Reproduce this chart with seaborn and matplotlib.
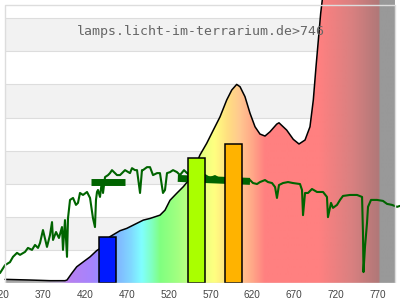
import numpy as np
import matplotlib
matplotlib.use("Agg")
import matplotlib.pyplot as plt
import seaborn as sns
from matplotlib.colors import to_rgb
from matplotlib.patches import Polygon

# ---------------- data (wavelength in nm, relative intensity) ----------------
lamp_nm = [324.7, 354.5, 378.4, 396.3, 398.7, 404.3, 410.3, 418.2, 426.2, 434.2,
           437.3, 450.0, 462.0, 470.0, 477.9, 489.8, 497.8, 509.7, 515.7, 521.7,
           529.7, 537.6, 543.5, 550.5, 557.5, 565.5, 573.4, 581.4, 589.4, 595.4,
           601.3, 605.3, 611.2, 617.2, 623.2, 629.1, 635.1, 641.1, 649.1, 651.8,
           661.0, 668.9, 675.7, 682.9, 688.8, 692.8, 696.0, 698.8, 701.6, 703.5,
           708.0, 720.0, 760.0, 790.3]
lamp_val = [0.11, 0.09, 0.07, 0.07, 0.09, 0.29, 0.49, 0.64, 0.79, 0.98,
            1.03, 1.40, 1.58, 1.65, 1.75, 1.90, 1.95, 2.05, 2.20, 2.50,
            2.71, 2.91, 3.09, 3.45, 3.87, 4.22, 4.62, 5.02, 5.53, 5.83,
            6.00, 5.93, 5.63, 5.13, 4.72, 4.50, 4.44, 4.57, 4.80, 4.84,
            4.62, 4.34, 4.20, 4.32, 4.72, 5.53, 6.53, 7.34, 8.15, 8.55,
            10.0, 12.0, 12.0, 12.0]

sun_nm = [318.7, 324.7, 330.6, 334.2, 339.0, 342.6, 348.6, 352.1, 356.9, 360.5,
          364.1, 366.5, 370.0, 374.8, 378.4, 380.8, 382.0, 385.6, 389.1, 392.7,
          393.9, 396.3, 398.7, 399.9, 402.3, 405.9, 409.4, 411.8, 414.2, 417.8,
          422.6, 426.2, 429.7, 432.1, 433.3, 434.5, 435.7, 438.1, 440.5, 441.7,
          444.1, 447.7, 450.0, 452.4, 458.4, 462.0, 465.6, 468.0, 473.9, 476.3,
          479.9, 482.3, 485.9, 488.2, 489.4, 494.2, 497.8, 501.4, 506.2, 509.7,
          513.3, 515.7, 518.1, 521.7, 525.3, 530.0, 533.6, 538.4, 542.0, 545.6,
          551.5, 557.5, 563.5, 569.4, 575.4, 581.4, 587.4, 593.3, 599.3, 605.3,
          611.2, 617.2, 620.8, 625.6, 629.1, 635.1, 638.7, 643.5, 647.1, 649.4,
          651.8, 656.6, 662.6, 668.5, 676.9, 679.3, 680.5, 682.9, 686.5, 691.2,
          697.2, 704.4, 709.1, 710.3, 713.9, 716.3, 721.1, 724.7, 728.2, 736.6,
          745.0, 751.0, 752.1, 752.7, 754.5, 756.9, 758.1, 761.7, 768.8, 776.0,
          780.8, 786.7, 792.7, 796.3]
sun_val = [0.30, 0.54, 0.63, 0.79, 0.91, 0.85, 0.94, 1.06, 1.00, 1.15,
           1.06, 1.21, 1.60, 1.09, 1.45, 1.84, 1.30, 1.54, 1.36, 1.69,
           1.00, 1.90, 0.79, 1.96, 2.51, 2.57, 2.36, 2.42, 2.72, 2.66,
           2.75, 2.57, 1.96, 1.69, 2.51, 2.75, 2.81, 2.60, 3.11, 2.72,
           3.20, 3.26, 3.32, 3.41, 3.26, 3.26, 3.35, 3.41, 3.32, 3.47,
           3.41, 3.41, 2.72, 3.41, 3.41, 3.50, 3.50, 3.26, 3.32, 3.32,
           2.72, 2.81, 3.32, 3.35, 3.41, 3.35, 3.26, 3.41, 3.32, 3.26,
           3.32, 3.23, 3.26, 3.17, 3.23, 3.14, 3.17, 3.11, 3.17, 3.11,
           3.14, 3.11, 3.02, 2.99, 3.05, 3.11, 3.05, 3.02, 2.90, 2.57,
           2.96, 3.02, 3.05, 3.02, 2.99, 2.81, 2.05, 2.72, 2.72, 2.84,
           2.75, 2.75, 2.60, 1.99, 2.42, 2.27, 2.36, 2.51, 2.63, 2.66,
           2.66, 2.60, 1.51, 0.33, 1.09, 1.81, 2.30, 2.51, 2.51, 2.48,
           2.39, 2.36, 2.30, 2.33]

avg1_nm = [427.4, 468.0]
avg1_val = [3.04, 3.04]
avg2_nm = [531.0, 617.2]
avg2_val = [3.16, 3.07]

led_nm = [447.5, 553.5, 597.5]
led_val = [1.39, 3.78, 4.20]
led_colors = ["#0019ff", "#aaff00", "#ffb300"]

tick_nm = [320, 370, 420, 470, 520, 570, 620, 670, 720, 770]
title = "lamps.licht-im-terrarium.de>746"

# wavelength colour stops for the gradient fill
grad_nm = [324, 370, 392, 400, 430, 445, 460, 475, 488, 500, 510, 530, 545,
           565, 575, 590, 605, 620, 635, 700, 740, 771.5, 772.5, 791]
grad_col = ["#a4a4a4", "#b0b0b0", "#b8a8d0", "#b880f0", "#a484ff", "#8898ff",
            "#80b8ff", "#80d8ff", "#80ffff", "#80ffc0", "#80ff80", "#a0ff80",
            "#c0ff80", "#f0ff80", "#ffff80", "#ffe080", "#ffc890", "#ffa888",
            "#ff8080", "#ff8080", "#d88080", "#b07878", "#999999", "#999999"]

# ---------------- figure ----------------
sns.set_theme(style="white")
fig = plt.figure(figsize=(4, 3), dpi=100)
ax = fig.add_axes([0, 17 / 300, 1, 283 / 300])
X0, X1 = 318.7, 796.3
YTOP = 8.55
ax.set_xlim(X0, X1)
ax.set_ylim(0, YTOP)
L, R, FTOP = 324.7, 790.3, 8.40

# background bands
for k in range(9):
    if k % 2 == 1:
        ax.fill_between([L, R], k, min(k + 1, FTOP), color="#f2f2f2", lw=0, zorder=0)
for k in range(1, 9):
    ax.plot([L, R], [k, k], color="#dddddd", lw=0.8, zorder=0.5)

# gradient fill under lamp spectrum
xs = np.linspace(L, R, 800)
rgb = np.array([to_rgb(c) for c in grad_col])
img = np.stack([np.interp(xs, grad_nm, rgb[:, i]) for i in range(3)], axis=-1)[None, :, :]
poly = Polygon([(L, 0)] + list(zip(lamp_nm, lamp_val)) + [(R, 0)], closed=True,
               transform=ax.transData, facecolor="none", edgecolor="none")
ax.add_patch(poly)
im = ax.imshow(img, extent=(L, R, 0, 14), aspect="auto", origin="lower",
               interpolation="bilinear", zorder=1)
im.set_clip_path(poly)

sns.lineplot(x=lamp_nm, y=lamp_val, ax=ax, color="black", lw=1.1,
             estimator=None, sort=False, zorder=2)

# sunlight reference
sns.lineplot(x=sun_nm, y=sun_val, ax=ax, color="#006400", lw=1.5,
             estimator=None, sort=False, zorder=3)
ax.plot(avg1_nm, avg1_val, color="#006400", lw=5, solid_capstyle="butt", zorder=3)
ax.plot(avg2_nm, avg2_val, color="#006400", lw=5, solid_capstyle="butt", zorder=3)

# LED bars
ax.bar(led_nm, led_val, width=20, color=led_colors, edgecolor="black",
       linewidth=1.1, zorder=4)

# frame
ax.plot([L, R, R, L, L], [0, 0, FTOP, FTOP, 0], color="#dddddd", lw=1.0, zorder=5)

fig.text(200.7 / 400, 1 - 32 / 300, title, ha="center", va="center",
         family="DejaVu Sans Mono", fontsize=9.5, color="#666666", zorder=10)

ax.set_xticks(tick_nm)
ax.set_xticklabels([str(t) for t in tick_nm], fontsize=7.2,
                   family="Liberation Sans", color="#444444")
ax.tick_params(axis="x", length=0, pad=5.0)
ax.set_yticks([])
for s in ax.spines.values():
    s.set_visible(False)
ax.set_facecolor("white")
ax.set_xlabel("")
ax.set_ylabel("")

fig.savefig("out.png", dpi=100)
